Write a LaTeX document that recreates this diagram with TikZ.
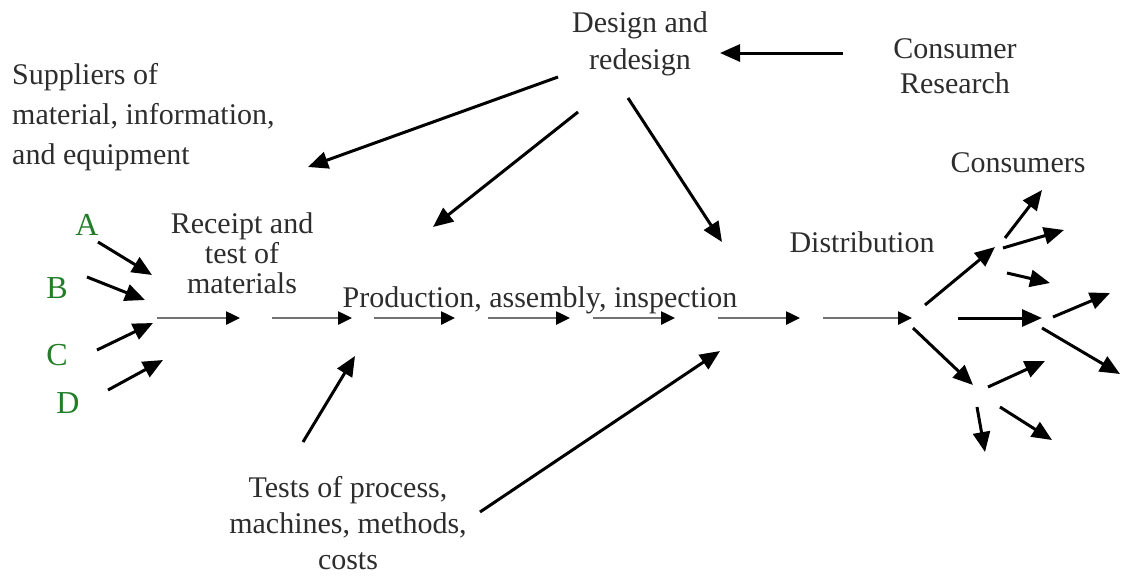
\documentclass[tikz,border=0pt]{standalone}
\usepackage{fontspec}
\setmainfont{Liberation Serif}
\usetikzlibrary{arrows.meta}
\definecolor{lettergreen}{RGB}{35,125,40}
\definecolor{textgray}{RGB}{45,45,45}

\begin{document}
\begin{tikzpicture}[x=1pt,y=-1pt,
    label/.style={align=center,inner sep=0pt,text=textgray,font=\fontsize{30}{37}\selectfont},
    letter/.style={inner sep=0pt,text=lettergreen,font=\fontsize{32}{36}\selectfont},
    feed/.style={line width=3pt,-{Triangle[length=20pt,width=17pt]}},
    flow/.style={line width=2.5pt,draw=black!55,-{Triangle[length=14pt,width=13pt,black]}}]
  \useasboundingbox (0,0) rectangle (1121,576);

  % texts
  \node [label] (design) at (640,44) {Design and\\redesign};
  \node [label,font=\fontsize{30}{35}\selectfont] (research) at (955,66) {Consumer\\Research};
  \node [label,align=left,anchor=west,font=\fontsize{30}{40}\selectfont] (suppliers) at (12,117) {Suppliers of\\material, information,\\and equipment};
  \node [label,font=\fontsize{30}{30}\selectfont] (receipt) at (242,253) {Receipt and\\test of\\materials};
  \node [label,anchor=base] (production) at (540,307) {Production, assembly, inspection};
  \node [label] (distribution) at (862,242) {Distribution};
  \node [label] (consumers) at (1018,163) {Consumers};
  \node [label,font=\fontsize{30}{36}\selectfont] (tests) at (348,523) {Tests of process,\\machines, methods,\\costs};

  % suppliers A to D
  \node [letter] (A) at (87,225) {A};
  \node [letter] (B) at (57,288) {B};
  \node [letter] (C) at (57,355) {C};
  \node [letter] (D) at (68,403) {D};
  \coordinate (a0) at (98,242);  \coordinate (a1) at (152,275);
  \coordinate (b0) at (87,277);  \coordinate (b1) at (145,300);
  \coordinate (c0) at (97,350);  \coordinate (c1) at (153,323);
  \coordinate (d0) at (108,390); \coordinate (d1) at (163,360);
  \draw [feed] (a0) -- (a1);
  \draw [feed] (b0) -- (b1);
  \draw [feed] (c0) -- (c1);
  \draw [feed] (d0) -- (d1);

  % main line
  \coordinate (m1) at (157,318); \coordinate (n1) at (240,318);
  \coordinate (m2) at (272,318); \coordinate (n2) at (352,318);
  \coordinate (m3) at (374,318); \coordinate (n3) at (455,318);
  \coordinate (m4) at (488,318); \coordinate (n4) at (570,318);
  \coordinate (m5) at (593,318); \coordinate (n5) at (675,318);
  \coordinate (m6) at (718,318); \coordinate (n6) at (800,318);
  \coordinate (m7) at (823,318); \coordinate (n7) at (912,318);
  \draw [flow] (m1) -- (n1);
  \draw [flow] (m2) -- (n2);
  \draw [flow] (m3) -- (n3);
  \draw [flow] (m4) -- (n4);
  \draw [flow] (m5) -- (n5);
  \draw [flow] (m6) -- (n6);
  \draw [flow] (m7) -- (n7);

  % consumer research to design
  \coordinate (r0) at (843,53); \coordinate (r1) at (720,53);
  \draw [feed] (r0) -- (r1);

  % design and redesign arrows
  \coordinate (s0) at (558,77);  \coordinate (s1) at (308,167);
  \coordinate (p0) at (578,112); \coordinate (p1) at (433,227);
  \coordinate (q0) at (628,98);  \coordinate (q1) at (722,242);
  \draw [feed] (s0) -- (s1);
  \draw [feed] (p0) -- (p1);
  \draw [feed] (q0) -- (q1);

  % tests arrows
  \coordinate (t0) at (303,442); \coordinate (t1) at (355,356);
  \coordinate (u0) at (480,512); \coordinate (u1) at (720,351);
  \draw [feed] (t0) -- (t1);
  \draw [feed] (u0) -- (u1);

  % distribution to consumers
  \coordinate (k1) at (925,305); \coordinate (l1) at (995,247);
  \coordinate (k2) at (958,318); \coordinate (l2) at (1042,318);
  \coordinate (k3) at (913,328); \coordinate (l3) at (973,385);
  \draw [feed] (k1) -- (l1);
  \draw [feed] (k2) -- (l2);
  \draw [feed] (k3) -- (l3);
  % upper group
  \coordinate (e1) at (1005,238); \coordinate (f1) at (1042,190);
  \coordinate (e2) at (1003,248); \coordinate (f2) at (1064,230);
  \coordinate (e3) at (1007,273); \coordinate (f3) at (1050,283);
  \draw [feed] (e1) -- (f1);
  \draw [feed] (e2) -- (f2);
  \draw [feed] (e3) -- (f3);
  % middle group
  \coordinate (g1) at (1053,317); \coordinate (h1) at (1110,293);
  \coordinate (g2) at (1042,328); \coordinate (h2) at (1120,374);
  \draw [feed] (g1) -- (h1);
  \draw [feed] (g2) -- (h2);
  % lower group
  \coordinate (v1) at (988,387);  \coordinate (w1) at (1045,361);
  \coordinate (v2) at (977,407);  \coordinate (w2) at (985,452);
  \coordinate (v3) at (1000,407); \coordinate (w3) at (1052,440);
  \draw [feed] (v1) -- (w1);
  \draw [feed] (v2) -- (w2);
  \draw [feed] (v3) -- (w3);
\end{tikzpicture}
\end{document}
